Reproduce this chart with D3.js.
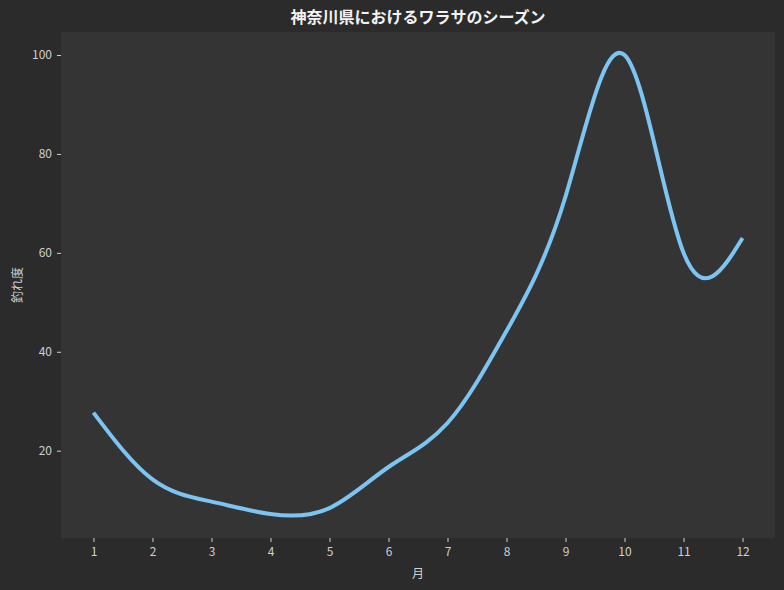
<!DOCTYPE html>
<html>
<head>
<meta charset="utf-8">
<script src="https://cdn.jsdelivr.net/npm/d3@7"></script>
<style>
  body { margin: 0; background: #2b2b2b; }
  text { font-family: "Noto Sans CJK JP", "Noto Sans", sans-serif; }
</style>
</head>
<body>
<script>
// months and how good the fishing is
var months = [1, 2, 3, 4, 5, 6, 7, 8, 9, 10, 11, 12];
var scores = [27.7, 14.2, 9.7, 7.2, 8.4, 16.7, 25.6, 44.2, 71.4, 100, 60, 63];
var yTicks = [20, 40, 60, 80, 100];

var width = 784,
    height = 590,
    margin = {top: 32, right: 9, bottom: 52, left: 61};

var svg = d3.select("body").append("svg")
    .attr("width", width)
    .attr("height", height)
    .style("background", "#2b2b2b");

var iw = width - margin.left - margin.right,
    ih = height - margin.top - margin.bottom;

var g = svg.append("g")
    .attr("transform", "translate(" + margin.left + "," + margin.top + ")");

// matplotlib style 5% padding on both axes
var x = d3.scaleLinear().domain([0.45, 12.55]).range([0, iw]);
var y = d3.scaleLinear().domain([2.35, 104.65]).range([ih, 0]);

g.append("rect")
    .attr("width", iw)
    .attr("height", ih)
    .attr("fill", "#343434");

var xAxis = g.append("g")
    .attr("transform", "translate(0," + ih + ")")
    .call(d3.axisBottom(x).tickValues(months).tickSize(4).tickPadding(5).tickFormat(d3.format("d")));

var yAxis = g.append("g")
    .call(d3.axisLeft(y).tickValues(yTicks).tickSize(4).tickPadding(5));

[xAxis, yAxis].forEach(function(a) {
  a.select(".domain").remove();
  a.selectAll("line").attr("stroke", "#d0d0d0");
  a.selectAll("text").attr("fill", "#cfcfcf").style("font-size", "12px");
});

var line = d3.line()
    .x(function(d, i) { return x(months[i]); })
    .y(function(d) { return y(d); })
    .curve(d3.curveNatural);

g.append("path")
    .datum(scores)
    .attr("fill", "none")
    .attr("stroke", "#7cc4f2")
    .attr("stroke-width", 4)
    .attr("d", line);

// title and axis labels
svg.append("text")
    .attr("x", margin.left + iw / 2)
    .attr("y", 23)
    .attr("text-anchor", "middle")
    .attr("fill", "#f2f2f2")
    .style("font-size", "16px")
    .style("font-weight", "bold")
    .text("神奈川県におけるワラサのシーズン");

svg.append("text")
    .attr("x", margin.left + iw / 2)
    .attr("y", 578)
    .attr("text-anchor", "middle")
    .attr("fill", "#cfcfcf")
    .style("font-size", "12px")
    .text("月");

svg.append("text")
    .attr("transform", "translate(22," + (margin.top + ih / 2) + ") rotate(-90)")
    .attr("text-anchor", "middle")
    .attr("fill", "#cfcfcf")
    .style("font-size", "12px")
    .text("釣れ度");
</script>
</body>
</html>
